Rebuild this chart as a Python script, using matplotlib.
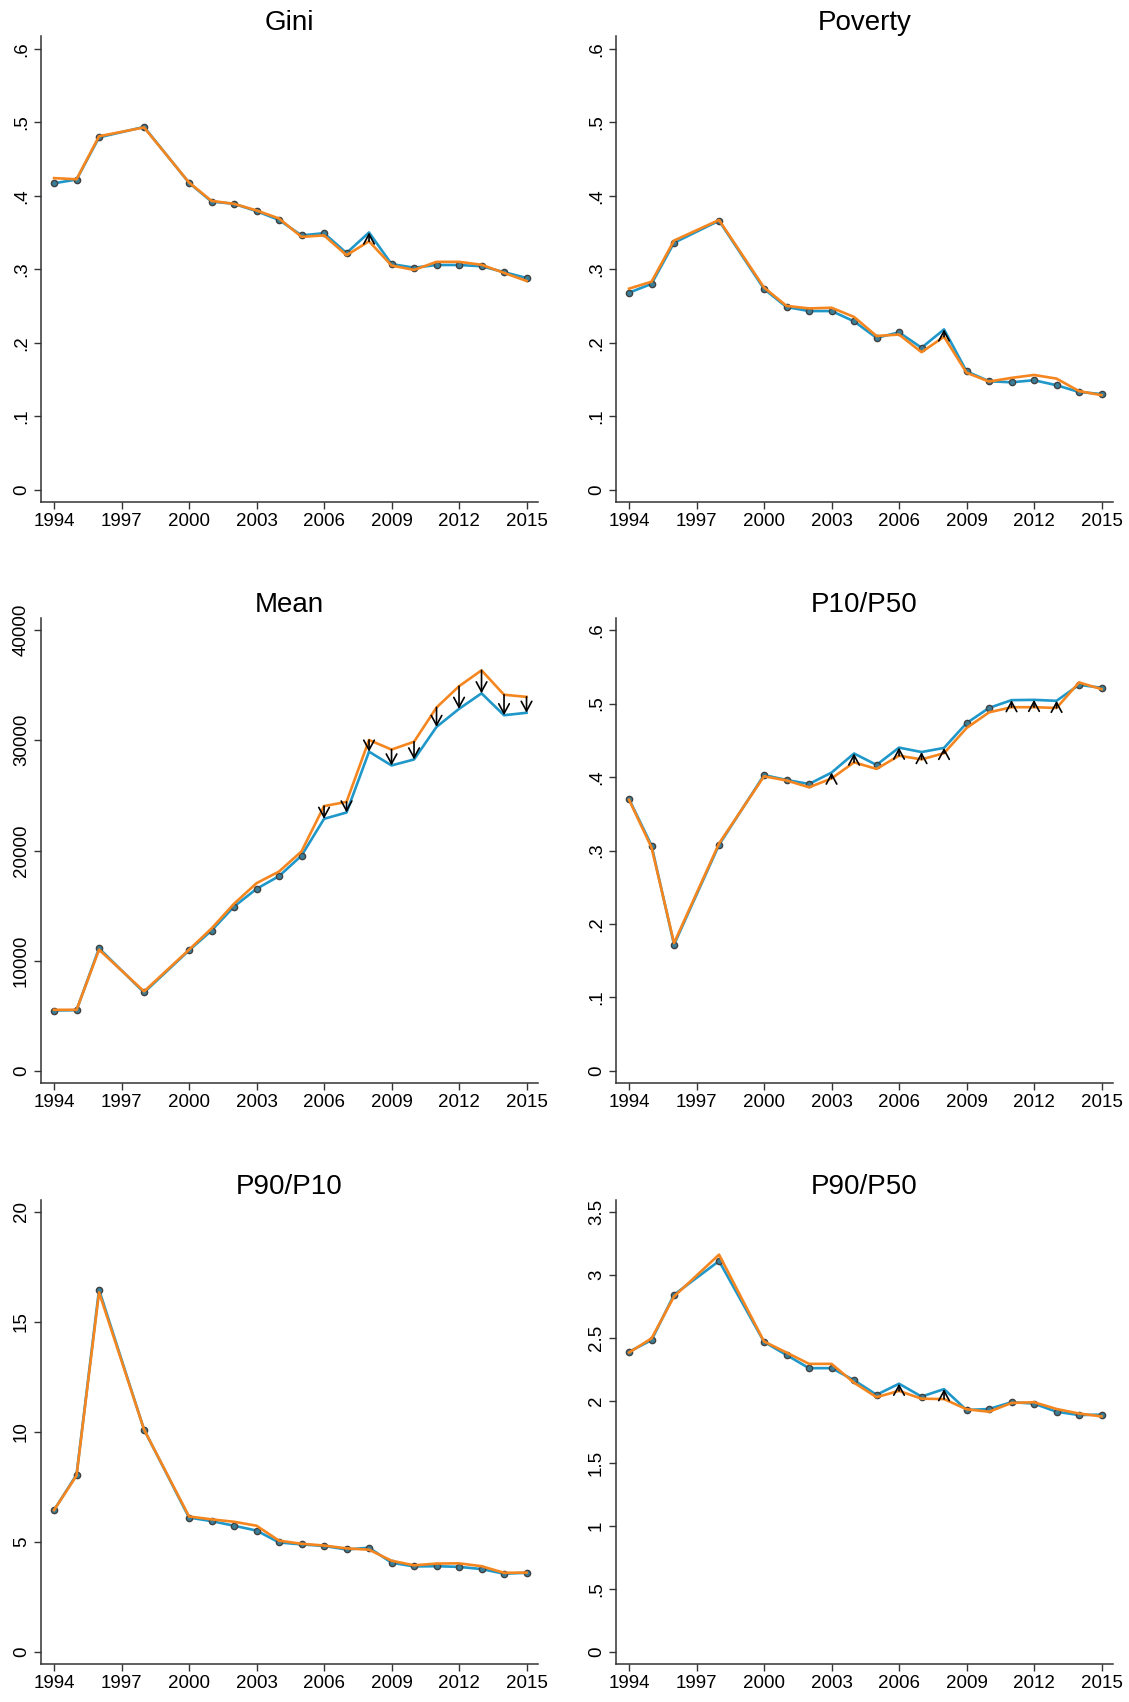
import matplotlib
matplotlib.use("Agg")
import matplotlib.pyplot as plt

plt.rcParams['font.family'] = ['Liberation Sans', 'DejaVu Sans']

years = [1994, 1995, 1996, 1998, 2000, 2001, 2002, 2003, 2004, 2005, 2006,
         2007, 2008, 2009, 2010, 2011, 2012, 2013, 2014, 2015]
xticks = [1994, 1997, 2000, 2003, 2006, 2009, 2012, 2015]

titles = ["Gini", "Poverty", "Mean", "P10/P50", "P90/P10", "P90/P50"]

# blue line (with markers)
gini_b = [0.417, 0.422, 0.4795, 0.4937, 0.4176, 0.392, 0.389, 0.379, 0.367, 0.346,
          0.349, 0.322, 0.350, 0.307, 0.302, 0.3057, 0.3057, 0.304, 0.296, 0.288]
pov_b = [0.268, 0.280, 0.336, 0.366, 0.273, 0.2485, 0.243, 0.243, 0.229, 0.2065,
         0.214, 0.193, 0.218, 0.161, 0.1474, 0.146, 0.1488, 0.142, 0.1328, 0.130]
mean_b = [5485, 5517, 11131, 7121, 10938, 12735, 14916, 16520, 17675, 19535,
          22871, 23448, 28966, 27715, 28260, 31211, 32847, 34258, 32270, 32494]
p1050_b = [0.370, 0.3067, 0.172, 0.3077, 0.4026, 0.396, 0.3905, 0.406, 0.432, 0.4165,
           0.440, 0.434, 0.4396, 0.4733, 0.494, 0.5046, 0.505, 0.5037, 0.5254, 0.5215]
p9010_b = [6.45, 8.06, 16.47, 10.11, 6.11, 5.95, 5.74, 5.52, 4.98, 4.89,
           4.82, 4.66, 4.74, 4.06, 3.89, 3.90, 3.87, 3.77, 3.56, 3.60]
p9050_b = [2.388, 2.481, 2.842, 3.110, 2.467, 2.362, 2.258, 2.258, 2.162, 2.046,
           2.134, 2.032, 2.091, 1.925, 1.933, 1.987, 1.976, 1.911, 1.885, 1.888]

# orange line
gini_o = [0.424, 0.4224, 0.481, 0.493, 0.418, 0.393, 0.389, 0.380, 0.369, 0.344,
          0.346, 0.319, 0.338, 0.305, 0.299, 0.310, 0.310, 0.306, 0.295, 0.284]
pov_o = [0.2735, 0.283, 0.339, 0.367, 0.275, 0.250, 0.2466, 0.2475, 0.235, 0.209,
         0.211, 0.187, 0.208, 0.159, 0.147, 0.152, 0.156, 0.151, 0.134, 0.1285]
mean_o = [5549, 5549, 11003, 7217, 11003, 12927, 15172, 17033, 18092, 19920,
          24026, 24411, 30024, 29158, 29864, 32975, 34900, 36343, 34130, 33937]
p1050_o = [0.369, 0.304, 0.174, 0.3096, 0.401, 0.3953, 0.386, 0.398, 0.420, 0.411,
           0.429, 0.424, 0.4324, 0.4666, 0.488, 0.495, 0.495, 0.494, 0.5287, 0.5196]
p9010_o = [6.45, 8.02, 16.35, 10.11, 6.16, 6.03, 5.92, 5.74, 5.06, 4.92,
           4.84, 4.71, 4.65, 4.15, 3.94, 4.02, 4.03, 3.90, 3.60, 3.61]
p9050_o = [2.382, 2.495, 2.828, 3.161, 2.470, 2.382, 2.292, 2.292, 2.142, 2.027,
           2.077, 2.015, 2.012, 1.931, 1.911, 1.981, 1.987, 1.933, 1.897, 1.874]

# years with a significant change (arrow from orange to blue)
gini_arr = [2008]
pov_arr = [2008]
mean_arr = [2006, 2007, 2008, 2009, 2010, 2011, 2012, 2013, 2014, 2015]
p1050_arr = [2003, 2004, 2006, 2007, 2008, 2011, 2012, 2013]
p9010_arr = []
p9050_arr = [2006, 2008]

yticks = [
    ([0, .1, .2, .3, .4, .5, .6], ["0", ".1", ".2", ".3", ".4", ".5", ".6"]),
    ([0, .1, .2, .3, .4, .5, .6], ["0", ".1", ".2", ".3", ".4", ".5", ".6"]),
    ([0, 10000, 20000, 30000, 40000], ["0", "10000", "20000", "30000", "40000"]),
    ([0, .1, .2, .3, .4, .5, .6], ["0", ".1", ".2", ".3", ".4", ".5", ".6"]),
    ([0, 5, 10, 15, 20], ["0", "5", "10", "15", "20"]),
    ([0, .5, 1, 1.5, 2, 2.5, 3, 3.5], ["0", ".5", "1", "1.5", "2", "2.5", "3", "3.5"]),
]
ylims = [(-0.017, 0.6175), (-0.017, 0.6175), (-1091, 41091),
         (-0.0164, 0.6164), (-0.545, 20.545), (-0.0955, 3.5955)]

blue_data = [gini_b, pov_b, mean_b, p1050_b, p9010_b, p9050_b]
orange_data = [gini_o, pov_o, mean_o, p1050_o, p9010_o, p9050_o]
arrows = [gini_arr, pov_arr, mean_arr, p1050_arr, p9010_arr, p9050_arr]

BLUE = "#1f97c9"
ORANGE = "#f5861f"

W, H = 1129, 1702
fig = plt.figure(figsize=(W / 100, H / 100), dpi=100)

col_x = [(41, 538), (616, 1113)]
row_y = [(36, 502), (618, 1083), (1200, 1664)]

for i in range(6):
    r, c = i // 2, i % 2
    x0, x1 = col_x[c]
    y0, y1 = row_y[r]
    ax = fig.add_axes([x0 / W, 1 - y1 / H, (x1 - x0) / W, (y1 - y0) / H])

    b = blue_data[i]
    o = orange_data[i]
    arr = arrows[i]
    ax.plot(years, b, color=BLUE, lw=1.9, zorder=2)
    mx = [y for y in years if y not in arr]
    my = [v for y, v in zip(years, b) if y not in arr]
    ax.plot(mx, my, ls="none", marker="o", ms=4.5, mfc="#3a7f9a",
            mec="#404040", mew=1.0, zorder=3)
    ax.plot(years, o, color=ORANGE, lw=1.9, zorder=4)
    for y in arr:
        k = years.index(y)
        ax.annotate("", xy=(y, b[k]), xytext=(y, o[k]),
                    arrowprops=dict(arrowstyle="->,head_length=0.7,head_width=0.38",
                                    color="black", lw=1.2, shrinkA=0, shrinkB=0),
                    zorder=5)

    ax.set_title(titles[i], fontsize=20, pad=3)
    ax.set_xlim(1993.42, 2015.51)
    ax.set_ylim(*ylims[i])
    ax.set_xticks(xticks)
    ax.set_xticklabels([str(t) for t in xticks])
    ax.set_yticks(yticks[i][0])
    ax.set_yticklabels(yticks[i][1], rotation=90, va="center")
    ax.tick_params(labelsize=13.5, length=5, width=1, color="#333333", pad=3)
    for s in ["top", "right"]:
        ax.spines[s].set_visible(False)
    for s in ["left", "bottom"]:
        ax.spines[s].set_color("#333333")
        ax.spines[s].set_linewidth(1.1)

fig.savefig("out.png", dpi=100, facecolor="white")
